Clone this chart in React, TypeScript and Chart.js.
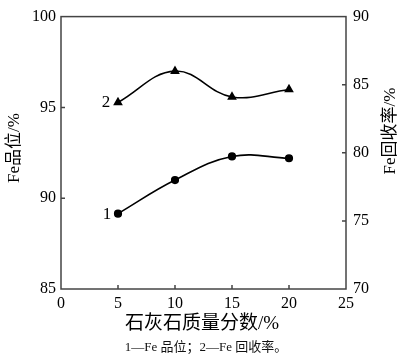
import { useEffect, useRef } from "react";
import { Chart, registerables } from "chart.js";
Chart.register(...registerables);

const xValues = [5, 10, 15, 20];
const feGrade = [89.15, 91.0, 92.3, 92.2];
const feRecovery = [83.7, 86.0, 84.1, 84.65];
const xTickValues = [0, 5, 10, 15, 20, 25];
const leftTickValues = [85, 90, 95, 100];
const rightTickValues = [70, 75, 80, 85, 90];
const xTitle = "石灰石质量分数/%";
const leftTitle = "Fe品位/%";
const rightTitle = "Fe回收率/%";
const caption = "1—Fe 品位；2—Fe 回收率。";
const seriesLabels = ["1", "2"];

const SERIF = '"Liberation Serif", "DejaVu Serif", "Noto Sans CJK SC", serif';

export default function App() {
  const ref = useRef<HTMLCanvasElement | null>(null);
  useEffect(() => {
    if (!ref.current) return;
    const overlay = {
      id: "overlay",
      afterDraw(chart: any) {
        const ctx = chart.ctx;
        const a = chart.chartArea;
        const x = chart.scales.x;
        const yl = chart.scales.y;
        const yr = chart.scales.y2;
        ctx.save();
        ctx.strokeStyle = "#444";
        ctx.lineWidth = 1.5;
        ctx.strokeRect(a.left, a.top, a.right - a.left, a.bottom - a.top);
        ctx.beginPath();
        xTickValues.slice(1, -1).forEach((v) => {
          const px = x.getPixelForValue(v);
          ctx.moveTo(px, a.bottom);
          ctx.lineTo(px, a.bottom - 4);
        });
        leftTickValues.slice(1, -1).forEach((v) => {
          const py = yl.getPixelForValue(v);
          ctx.moveTo(a.left, py);
          ctx.lineTo(a.left + 4, py);
        });
        rightTickValues.slice(1, -1).forEach((v) => {
          const py = yr.getPixelForValue(v);
          ctx.moveTo(a.right, py);
          ctx.lineTo(a.right - 4, py);
        });
        ctx.stroke();

        ctx.fillStyle = "#000";
        ctx.textAlign = "center";
        ctx.textBaseline = "middle";
        ctx.font = `19px ${SERIF}`;
        ctx.fillText(xTitle, 202, 324);
        ctx.font = `13px ${SERIF}`;
        ctx.fillStyle = "#111";
        ctx.fillText(caption, 206, 348);
        ctx.fillStyle = "#000";
        ctx.font = `17px ${SERIF}`;
        ctx.save();
        ctx.translate(15, 148);
        ctx.rotate(-Math.PI / 2);
        ctx.fillText(leftTitle, 0, 0);
        ctx.restore();
        ctx.save();
        ctx.translate(391, 131);
        ctx.rotate(-Math.PI / 2);
        ctx.fillText(rightTitle, 0, 0);
        ctx.restore();
        ctx.font = `17px ${SERIF}`;
        const p1 = chart.getDatasetMeta(0).data[0];
        const p2 = chart.getDatasetMeta(1).data[0];
        ctx.fillText(seriesLabels[0], p1.x - 11, p1.y + 1);
        ctx.fillText(seriesLabels[1], p2.x - 12, p2.y);
        ctx.restore();
      },
    };
    const chart = new Chart(ref.current, {
      type: "line",
      data: {
        datasets: [
          {
            label: "Fe品位",
            data: xValues.map((v, i) => ({ x: v, y: feGrade[i] })),
            yAxisID: "y",
            borderColor: "#000",
            backgroundColor: "#000",
            borderWidth: 1.6,
            pointStyle: "circle",
            pointRadius: 3.3,
            tension: 0.4,
          },
          {
            label: "Fe回收率",
            data: xValues.map((v, i) => ({ x: v, y: feRecovery[i] })),
            yAxisID: "y2",
            borderColor: "#000",
            backgroundColor: "#000",
            borderWidth: 1.6,
            pointStyle: "triangle",
            pointRadius: 4,
            tension: 0.4,
          },
        ],
      },
      options: {
        animation: false,
        responsive: false,
        maintainAspectRatio: false,
        layout: { padding: { top: 6, left: 0, right: 0, bottom: 0 } },
        plugins: { legend: { display: false }, tooltip: { enabled: false } },
        scales: {
          x: {
            type: "linear",
            min: 0,
            max: 25,
            afterBuildTicks: (s: any) => {
              s.ticks = xTickValues.map((v) => ({ value: v }));
            },
            grid: { display: false, drawTicks: false },
            border: { display: false },
            ticks: { padding: 5, color: "#000", font: { family: SERIF, size: 16 }, maxRotation: 0, autoSkip: false },
            afterFit: (s: any) => {
              s.height = 67;
            },
          },
          y: {
            type: "linear",
            position: "left",
            min: 85,
            max: 100,
            afterBuildTicks: (s: any) => {
              s.ticks = leftTickValues.map((v) => ({ value: v }));
            },
            grid: { display: false, drawTicks: false },
            border: { display: false },
            ticks: { padding: 5, color: "#000", font: { family: SERIF, size: 16 } },
            afterFit: (s: any) => {
              s.width = 61;
            },
          },
          y2: {
            type: "linear",
            position: "right",
            min: 70,
            max: 90,
            afterBuildTicks: (s: any) => {
              s.ticks = rightTickValues.map((v) => ({ value: v }));
            },
            grid: { display: false, drawTicks: false },
            border: { display: false },
            ticks: { padding: 7, color: "#000", font: { family: SERIF, size: 16 } },
            afterFit: (s: any) => {
              s.width = 54;
            },
          },
        },
      },
      plugins: [overlay],
    });
    return () => chart.destroy();
  }, []);
  return (
    <div style={{ position: "absolute", left: 0, top: 0, width: 400, height: 356, background: "#fff" }}>
      <canvas ref={ref} width={400} height={356} style={{ width: 400, height: 356 }} />
    </div>
  );
}
